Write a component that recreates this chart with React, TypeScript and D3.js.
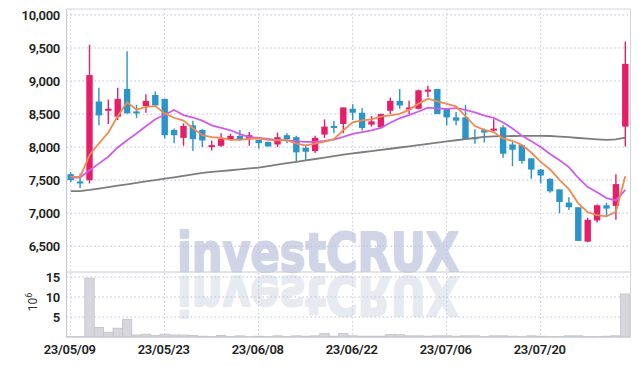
import React from "react";
import * as d3 from "d3";

const dates = [
  "23/05/09","23/05/10","23/05/11","23/05/12","23/05/15","23/05/16","23/05/17","23/05/18","23/05/19","23/05/22",
  "23/05/23","23/05/24","23/05/25","23/05/26","23/05/30","23/05/31","23/06/01","23/06/02","23/06/05","23/06/07",
  "23/06/08","23/06/09","23/06/12","23/06/13","23/06/14","23/06/15","23/06/16","23/06/19","23/06/20","23/06/21",
  "23/06/22","23/06/23","23/06/26","23/06/27","23/06/28","23/06/29","23/06/30","23/07/03","23/07/04","23/07/05",
  "23/07/06","23/07/07","23/07/10","23/07/11","23/07/12","23/07/13","23/07/14","23/07/17","23/07/18","23/07/19",
  "23/07/20","23/07/21","23/07/24","23/07/25","23/07/26","23/07/27","23/07/28","23/07/31","23/08/01","23/08/02",
];
const opens = [
  7590,7480,7500,8690,8550,8460,8880,8540,8620,8790,
  8730,8260,8140,8330,8260,8000,8020,8120,8170,8120,
  8110,8080,8040,8180,8150,7990,7940,8190,8320,8350,
  8580,8520,8340,8300,8550,8700,8570,8580,8860,8880,
  8580,8450,8450,8150,8260,8250,8300,8040,8030,7830,
  7660,7520,7360,7160,7090,6570,6890,7120,7110,8310,
];
const highs = [
  7620,7600,9550,8900,8720,8900,9450,8640,8800,8840,
  8730,8280,8360,8400,8270,8100,8210,8200,8260,8230,
  8110,8080,8220,8210,8170,8030,8170,8420,8400,8600,
  8650,8590,8470,8510,8750,8880,8700,8870,8930,8880,
  8590,8530,8640,8270,8280,8420,8330,8080,8040,7830,
  7670,7530,7360,7240,7090,6930,7130,7160,7590,9600,
];
const lows = [
  7470,7380,7450,8330,8350,8410,8510,8440,8520,8620,
  8130,8060,8020,7940,8000,7950,8000,8100,8100,8020,
  7980,8010,8000,8060,7790,7800,7910,8140,8210,8210,
  8410,8250,8310,8290,8500,8580,8500,8570,8760,8500,
  8330,8330,8110,8050,8070,8240,7840,7710,7750,7520,
  7450,7310,7000,7050,6580,6560,6860,6940,6900,8010,
];
const closes = [
  7500,7460,9090,8480,8580,8730,8510,8530,8700,8630,
  8180,8180,8320,8120,8100,8030,8120,8170,8120,8180,
  8060,8010,8150,8120,7920,7930,8140,8310,8300,8600,
  8520,8290,8390,8500,8700,8630,8600,8860,8870,8500,
  8450,8400,8120,8120,8220,8280,7900,7960,7790,7660,
  7570,7330,7170,7090,6580,6900,7120,7070,7440,9260,
];
// volume in millions of shares
const volumes = [
  0.1,0.1,14.7,2.4,1.2,2.2,4.4,0.5,0.7,0.4,
  0.7,0.5,0.5,0.4,0.2,0.1,0.4,0.1,0.3,0.1,
  0.2,0.1,0.3,0.1,0.3,0.2,0.3,0.9,0.2,0.9,
  0.3,0.2,0.2,0.2,0.6,0.6,0.3,0.3,0.2,0.3,
  0.3,0.2,0.3,0.3,0.1,0.3,0.3,0.2,0.1,0.3,
  0.2,0.1,0.1,0.3,0.3,0.1,0.1,0.2,0.3,10.75,
];
// moving-average values before enough in-window history exists
const ma5Head = [7550, 7545, 7880, 8055];
const ma10Head = [7540, 7540, 7650, 7750, 7855, 7995, 8105, 8205, 8315];
// long moving average
const maLong = [
  7333,7335,7352,7373,7395,7416,7437,7458,7480,7500,
  7522,7543,7565,7588,7610,7625,7638,7650,7663,7677,
  7690,7712,7734,7756,7778,7800,7820,7840,7862,7886,
  7905,7922,7940,7958,7975,7994,8012,8030,8050,8068,
  8086,8104,8121,8138,8155,8162,8166,8168,8170,8171,
  8171,8168,8160,8150,8138,8128,8118,8110,8118,8145,
];
const priceTicks = [6500, 7000, 7500, 8000, 8500, 9000, 9500, 10000];
const volumeTicks = [5, 10, 15];
const dateTicks = ["23/05/09", "23/05/23", "23/06/08", "23/06/22", "23/07/06", "23/07/20"];

function rolling(values: number[], n: number, head: number[]): number[] {
  return values.map((_, i) =>
    i < head.length ? head[i] : (d3.mean(values.slice(i - n + 1, i + 1)) as number)
  );
}

const W = 639, H = 366;
const left = 66.5, right = 630.5;
const pTop = 9, pBottom = 272, vBottom = 337;

export default function App() {
  const x = d3.scaleBand<string>().domain(dates).range([left - 0.5, right - 0.5]).padding(0);
  const bw = x.bandwidth();
  const cx = (d: string) => (x(d) as number) + bw / 2;
  const y = d3.scaleLinear().domain([6110, 10090]).range([pBottom, pTop]);
  const yv = d3.scaleLinear().domain([0, 16.25]).range([vBottom, pBottom]);

  const ma5 = rolling(closes, 5, ma5Head);
  const ma10 = rolling(closes, 10, ma10Head);

  const line = (vals: number[]) =>
    d3.line<number>().x((_, i) => cx(dates[i])).y((v) => y(v))(vals) as string;

  const up = "#e61e68";
  const down = "#2b94c9";
  const gridColor = "#bcc0d8";
  const font = "Roboto, 'Liberation Sans', sans-serif";
  const wmFont = "'DejaVu Sans', 'Liberation Sans', sans-serif";
  const bodyW = bw * 0.68;

  return (
    <svg width={W} height={H} style={{ position: "absolute", left: 0, top: 0, background: "#fff" }}>
      <defs>
        <clipPath id="plotclip">
          <rect x={left} y={pTop} width={right - left} height={vBottom - pTop} />
        </clipPath>
      </defs>
      {/* watermark */}
      <g clipPath="url(#plotclip)">
        <text x={177} y={pBottom - 1} fontFamily={wmFont} fontWeight="bold"
          fontSize={53} textLength={282} lengthAdjust="spacingAndGlyphs" fill="#cfd5e7"
          stroke="#cfd5e7" strokeWidth={2} strokeLinejoin="round">investCRUX</text>
        <text x={177} y={pBottom - 1} transform={`translate(0 ${2 * pBottom + 4}) scale(1 -1)`}
          fontFamily={wmFont} fontWeight="bold"
          fontSize={53} textLength={282} lengthAdjust="spacingAndGlyphs" fill="#e8eaf1"
          stroke="#e8eaf1" strokeWidth={2} strokeLinejoin="round">investCRUX</text>
      </g>

      {/* grid */}
      {priceTicks.map((t) => (
        <line key={"pg" + t} x1={left} x2={right} y1={y(t)} y2={y(t)} stroke={gridColor}
          strokeDasharray="1.5,2.5" strokeWidth={1} />
      ))}
      {volumeTicks.map((t) => (
        <line key={"vg" + t} x1={left} x2={right} y1={yv(t)} y2={yv(t)} stroke={gridColor}
          strokeDasharray="1.5,2.5" strokeWidth={1} />
      ))}
      {dateTicks.map((d) => (
        <line key={"xg" + d} x1={cx(d)} x2={cx(d)} y1={pTop} y2={vBottom} stroke="#c4c6e2"
          strokeDasharray="1.5,2.5" strokeWidth={1} />
      ))}

      {/* volume bars */}
      {dates.map((d, i) => (
        <rect key={"v" + d} x={x(d) as number} y={yv(volumes[i])} width={bw}
          height={Math.max(0, vBottom - yv(volumes[i]))} fill="#d6d6dc" stroke="#c2c2ca" strokeWidth={0.8} />
      ))}

      {/* frame */}
      <line x1={left} x2={right} y1={pTop} y2={pTop} stroke="#d4d4dc" />
      <line x1={right} x2={right} y1={pTop} y2={vBottom} stroke="#d4d4dc" />
      <line x1={left} x2={right} y1={pBottom} y2={pBottom} stroke="#c8c8d2" />
      <line x1={left} x2={right} y1={vBottom} y2={vBottom} stroke="#c8c8d2" />
      <line x1={left} x2={left} y1={pTop} y2={vBottom} stroke="#c4c8dc" />

      {/* candles */}
      {dates.map((d, i) => {
        const o = opens[i], c = closes[i];
        const col = c >= o ? up : down;
        const top = y(Math.max(o, c));
        const bot = y(Math.min(o, c));
        return (
          <g key={"c" + d}>
            <line x1={cx(d)} x2={cx(d)} y1={y(highs[i])} y2={y(lows[i])} stroke={col} strokeWidth={1.4} />
            <rect x={cx(d) - bodyW / 2} y={top} width={bodyW} height={Math.max(2, bot - top)} fill={col} />
          </g>
        );
      })}

      {/* moving averages */}
      <path d={line(maLong)} fill="none" stroke="#7d7d7d" strokeWidth={1.8} />
      <path d={line(ma10)} fill="none" stroke="#cf5ce8" strokeWidth={1.8} />
      <path d={line(ma5)} fill="none" stroke="#ef8a50" strokeWidth={1.8} />

      {/* axes labels */}
      {priceTicks.map((t) => (
        <text key={"pl" + t} x={60} y={y(t)} dy="0.36em" textAnchor="end" fontFamily={font}
          fontSize={13} fontWeight={600} fill="#222" letterSpacing={-0.3}>{d3.format(",")(t)}</text>
      ))}
      {volumeTicks.map((t) => (
        <text key={"vl" + t} x={60} y={yv(t)} dy="0.36em" textAnchor="end" fontFamily={font}
          fontSize={13} fontWeight={600} fill="#222" letterSpacing={-0.3}>{t}</text>
      ))}
      <text transform="translate(37 302) rotate(-90)" textAnchor="middle" fontFamily={font} fontSize={12} fill="#333">
        10<tspan dy={-5} fontSize={9}>6</tspan>
      </text>
      {dateTicks.map((d) => (
        <text key={"xl" + d} x={cx(d) - 1} y={354} textAnchor="middle" fontFamily={font}
          fontSize={13} fontWeight={600} fill="#222" letterSpacing={-0.3}>{d}</text>
      ))}
    </svg>
  );
}
